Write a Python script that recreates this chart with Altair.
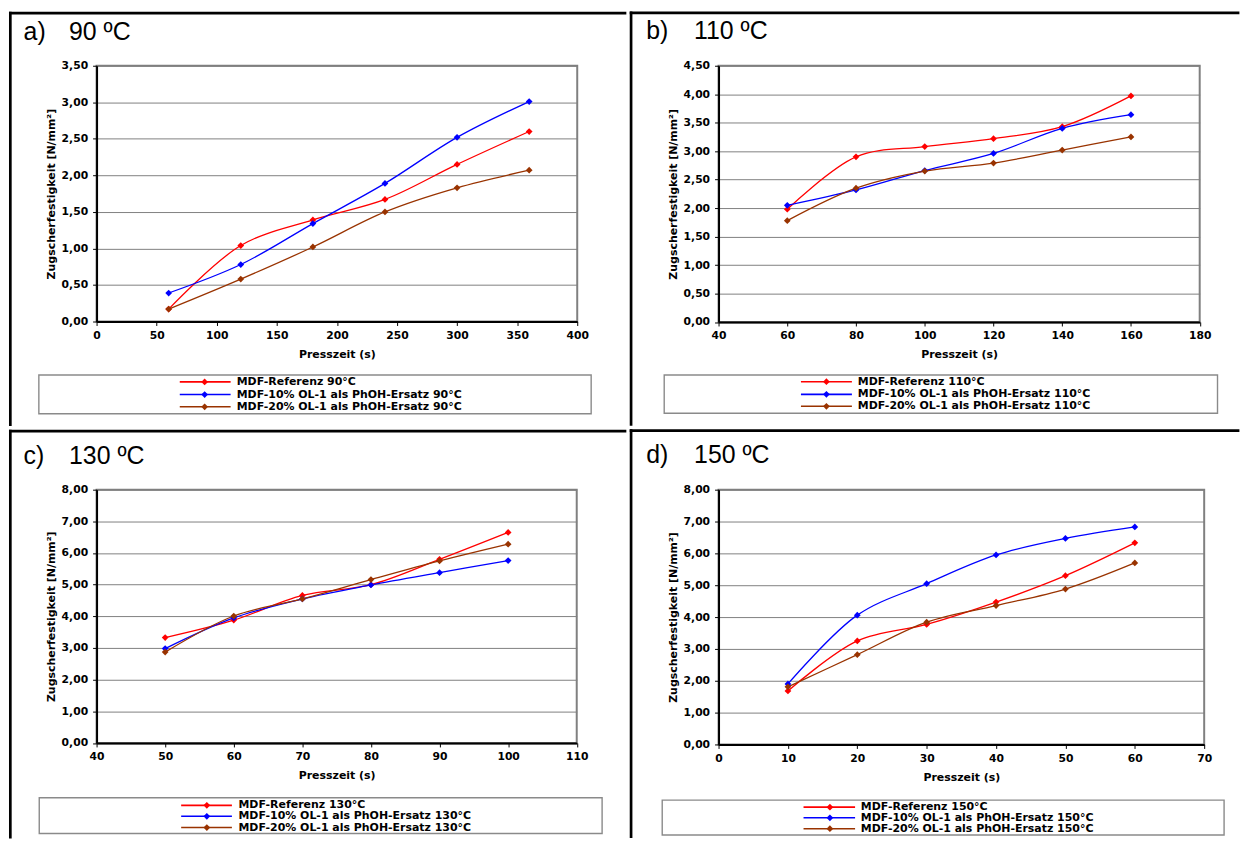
import altair as alt
import pandas as pd

# ---------------- data ----------------
series_keys = ["ref", "ol10", "ol20"]
series_colors = ["#FF0000", "#0000FF", "#993300"]

panel_tags = ["a)", "b)", "c)", "d)"]
panel_temps = ["90 ºC", "110 ºC", "130 ºC", "150 ºC"]
x_title = "Presszeit (s)"
y_title = "Zugscherfestigkeit [N/mm²]"

# a) 90 °C
x_a = [60, 120, 180, 240, 300, 360]
ref_a = [0.17, 1.04, 1.39, 1.67, 2.15, 2.60]
ol10_a = [0.39, 0.78, 1.34, 1.89, 2.52, 3.01]
ol20_a = [0.17, 0.58, 1.02, 1.50, 1.83, 2.07]
legend_a = ["MDF-Referenz 90°C", "MDF-10% OL-1 als PhOH-Ersatz 90°C",
            "MDF-20% OL-1 als PhOH-Ersatz 90°C"]
xticks_a = [0, 50, 100, 150, 200, 250, 300, 350, 400]
yticks_a = [0, 0.5, 1.0, 1.5, 2.0, 2.5, 3.0, 3.5]

# b) 110 °C
x_b = [60, 80, 100, 120, 140, 160]
ref_b = [1.98, 2.90, 3.08, 3.22, 3.43, 3.97]
ol10_b = [2.05, 2.32, 2.66, 2.96, 3.40, 3.64]
ol20_b = [1.78, 2.35, 2.65, 2.79, 3.02, 3.25]
legend_b = ["MDF-Referenz 110°C", "MDF-10% OL-1 als PhOH-Ersatz 110°C",
            "MDF-20% OL-1 als PhOH-Ersatz 110°C"]
xticks_b = [40, 60, 80, 100, 120, 140, 160, 180]
yticks_b = [0, 0.5, 1.0, 1.5, 2.0, 2.5, 3.0, 3.5, 4.0, 4.5]

# c) 130 °C
x_c = [50, 60, 70, 80, 90, 100]
ref_c = [3.33, 3.88, 4.66, 5.00, 5.80, 6.65]
ol10_c = [2.98, 3.95, 4.55, 4.99, 5.38, 5.76]
ol20_c = [2.87, 4.01, 4.55, 5.16, 5.75, 6.28]
legend_c = ["MDF-Referenz 130°C", "MDF-10% OL-1 als PhOH-Ersatz 130°C",
            "MDF-20% OL-1 als PhOH-Ersatz 130°C"]
xticks_c = [40, 50, 60, 70, 80, 90, 100, 110]
yticks_c = [0, 1, 2, 3, 4, 5, 6, 7, 8]

# d) 150 °C
x_d = [10, 20, 30, 40, 50, 60]
ref_d = [1.68, 3.25, 3.77, 4.47, 5.30, 6.33]
ol10_d = [1.90, 4.06, 5.05, 5.95, 6.47, 6.83]
ol20_d = [1.81, 2.82, 3.84, 4.36, 4.88, 5.70]
legend_d = ["MDF-Referenz 150°C", "MDF-10% OL-1 als PhOH-Ersatz 150°C",
            "MDF-20% OL-1 als PhOH-Ersatz 150°C"]
xticks_d = [0, 10, 20, 30, 40, 50, 60, 70]
yticks_d = [0, 1, 2, 3, 4, 5, 6, 7, 8]

# ---------------- layout (page pixel coordinates) ----------------
panels = [
    dict(x=x_a, ys=[ref_a, ol10_a, ol20_a], labels=legend_a, xdom=[0, 400], xticks=xticks_a,
         ydom=[0, 3.5], yticks=yticks_a,
         plot=(96, 62.3, 483, 257), cell=(8, 8, 628.35, 424.35),
         tag_x=22.7, temp_x=68.3, title_y=36,
         box=(38, 593, 373, 412), rows=(380, 392.7, 405), glyph=(179.6, 230.7, 204.6, 236.8)),
    dict(x=x_b, ys=[ref_b, ol10_b, ol20_b], labels=legend_b, xdom=[40, 180], xticks=xticks_b,
         ydom=[0, 4.5], yticks=yticks_b,
         plot=(717.6, 62.5, 483.5, 257.5), cell=(628.35, 8, 1241, 424.35),
         tag_x=645, temp_x=693, title_y=36,
         box=(663, 1219, 373.3, 411.7), rows=(380, 392.7, 404.7), glyph=(800.4, 851.6, 826, 857.5)),
    dict(x=x_c, ys=[ref_c, ol10_c, ol20_c], labels=legend_c, xdom=[40, 110], xticks=xticks_c,
         ydom=[0, 8], yticks=yticks_c,
         plot=(96, 484.5, 482.5, 254.5), cell=(8, 424.35, 628.35, 835),
         tag_x=22.7, temp_x=68.3, title_y=458.3,
         box=(38.4, 604, 794, 830), rows=(801.7, 812.7, 824), glyph=(181, 232, 206.8, 238.6)),
    dict(x=x_d, ys=[ref_d, ol10_d, ol20_d], labels=legend_d, xdom=[0, 70], xticks=xticks_d,
         ydom=[0, 8], yticks=yticks_d,
         plot=(717.6, 485, 488, 256), cell=(628.35, 424.35, 1241, 835),
         tag_x=645, temp_x=693, title_y=458,
         box=(661, 1225.6, 797, 832), rows=(804, 814.7, 825.7), glyph=(803, 854.8, 829.5, 860.6)),
]

BORDER = 2.7
one = pd.DataFrame({"k": [0]})


def rect(x1, x2, y1, y2, **kw):
    return alt.Chart(one).mark_rect(**kw).encode(
        x=alt.value(x1), x2=alt.value(x2), y=alt.value(y1), y2=alt.value(y2))


def make_panel(i, p):
    px, py, w, h = p["plot"]
    cl, ct, cr, cb = p["cell"]
    rx = lambda v: v - px
    ry = lambda v: v - py

    rows = []
    for key, ys_ in zip(series_keys, p["ys"]):
        for xv, yv in zip(p["x"], ys_):
            rows.append({"x": xv, "y": yv, "s": key})
    df = pd.DataFrame(rows)

    color = alt.Color("s:N", scale=alt.Scale(domain=series_keys, range=series_colors), legend=None)
    xenc = alt.X("x:Q", scale=alt.Scale(domain=p["xdom"], nice=False, zero=False),
                 axis=alt.Axis(values=p["xticks"], title=x_title, grid=False, format="d",
                               labelFlush=False, labelPadding=4, titlePadding=8))
    yenc = alt.Y("y:Q", scale=alt.Scale(domain=p["ydom"], nice=False),
                 axis=alt.Axis(values=p["yticks"], title=y_title, grid=True,
                               labelExpr="replace(format(datum.value, '.2f'), '.', ',')",
                               labelPadding=5, titlePadding=5))

    base = alt.Chart(df)
    lines = base.mark_line(interpolate="catmull-rom", strokeWidth=1.3).encode(
        x=xenc, y=yenc, color=color, detail="s:N")
    points = base.mark_point(shape="diamond", filled=True, size=46, opacity=1).encode(
        x=xenc, y=yenc, color=color)

    layers = []
    # invisible cell extent (defines concat bounds)
    layers.append(rect(rx(cl), rx(cr), ry(ct), ry(cb), color="white", opacity=0))
    # panel borders (left and top)
    layers.append(rect(rx(cl), rx(cl + BORDER), ry(ct), ry(cb), color="black"))
    layers.append(rect(rx(cl), rx(cr), ry(ct), ry(ct + BORDER), color="black"))
    # panel title
    layers.append(alt.Chart(pd.DataFrame({"t": [panel_tags[i]]})).mark_text(
        font="Liberation Sans", fontSize=25, align="left", baseline="alphabetic", color="black"
    ).encode(x=alt.value(rx(p["tag_x"])), y=alt.value(ry(p["title_y"])), text="t:N"))
    layers.append(alt.Chart(pd.DataFrame({"t": [panel_temps[i]]})).mark_text(
        font="Liberation Sans", fontSize=25, align="left", baseline="alphabetic", color="black"
    ).encode(x=alt.value(rx(p["temp_x"])), y=alt.value(ry(p["title_y"])), text="t:N"))

    layers.append(lines)
    layers.append(points)

    # legend box
    bx1, bx2, by1, by2 = p["box"]
    layers.append(rect(rx(bx1), rx(bx2), ry(by1), ry(by2), fill="white",
                       stroke="#8a8a8a", strokeWidth=1.4))
    g1, g2, gd, gt = p["glyph"]
    for label, col, ry_ in zip(p["labels"], series_colors, p["rows"]):
        layers.append(alt.Chart(one).mark_rule(color=col, strokeWidth=1.6).encode(
            x=alt.value(rx(g1)), x2=alt.value(rx(g2)), y=alt.value(ry(ry_))))
        layers.append(alt.Chart(one).mark_point(shape="diamond", filled=True, size=46,
                                                color=col, opacity=1).encode(
            x=alt.value(rx(gd)), y=alt.value(ry(ry_))))
        layers.append(alt.Chart(pd.DataFrame({"t": [label]})).mark_text(
            font="DejaVu Sans", fontWeight="bold", fontSize=11, align="left",
            baseline="middle", color="black"
        ).encode(x=alt.value(rx(gt)), y=alt.value(ry(ry_)), text="t:N"))

    return alt.layer(*layers).properties(width=w, height=h)


charts = [make_panel(i, p) for i, p in enumerate(panels)]

chart = alt.vconcat(
    alt.hconcat(charts[0], charts[1], spacing=0),
    alt.hconcat(charts[2], charts[3], spacing=0),
    spacing=0,
).properties(padding=0, background="white").configure_view(
    stroke="#808080", strokeWidth=2
).configure_axis(
    domainColor="black", domainWidth=2, tickColor="black", tickSize=4, tickWidth=1,
    labelFont="DejaVu Sans", labelFontWeight="bold", labelFontSize=10.8, labelColor="black",
    titleFont="DejaVu Sans", titleFontWeight="bold", titleFontSize=11, titleColor="black",
    gridColor="#808080", gridWidth=1, labelOverlap=False
)

chart.save("out.html", embed_options={"renderer": "svg", "actions": False})
